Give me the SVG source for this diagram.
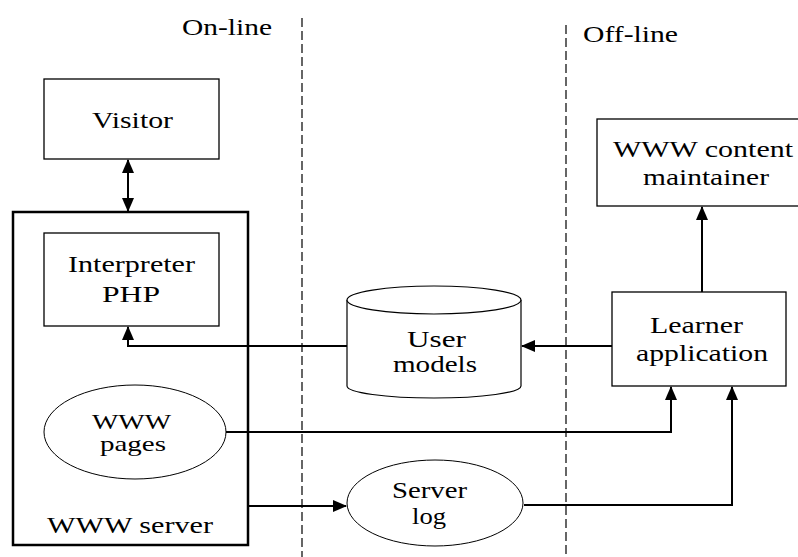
<svg xmlns="http://www.w3.org/2000/svg" width="798" height="557" viewBox="0 0 798 557" font-family="'Liberation Serif','Times New Roman',Times,serif">
<style>
text{font-family:"Liberation Serif","Times New Roman",Times,serif;font-size:24px;fill:#000}
.box{fill:#fff;stroke:#000;stroke-width:1.3}
.conn{fill:none;stroke:#000;stroke-width:2}
.dash{fill:none;stroke:#000;stroke-width:1.2;stroke-dasharray:9 4}
.sm{font-size:21px}
</style>
<defs>
<marker id="ah" markerUnits="userSpaceOnUse" markerWidth="14" markerHeight="12" refX="13" refY="6" orient="auto">
<path d="M0,0 L14,6 L0,12 z" fill="#000"/>
</marker>
<marker id="as" markerUnits="userSpaceOnUse" markerWidth="14" markerHeight="12" refX="1" refY="6" orient="auto">
<path d="M14,0 L0,6 L14,12 z" fill="#000"/>
</marker>
</defs>
<rect width="798" height="557" fill="#fff"/>

<g id="dividers">
<line class="dash" x1="302" y1="18" x2="302" y2="557"/>
<line class="dash" x1="566" y1="25" x2="566" y2="557"/>
<text x="182" y="35" textLength="90" lengthAdjust="spacingAndGlyphs">On-line</text>
<text x="583" y="42" textLength="95" lengthAdjust="spacingAndGlyphs">Off-line</text>
</g>

<g id="connectors">
<line class="conn" x1="128" y1="160" x2="128" y2="211" marker-start="url(#as)" marker-end="url(#ah)"/>
<line class="conn" x1="612" y1="346" x2="522" y2="346" marker-end="url(#ah)"/>
<polyline class="conn" points="347,346 128,346 128,327" marker-end="url(#ah)"/>
<polyline class="conn" points="226,432 671,432 671,387" marker-end="url(#ah)"/>
<polyline class="conn" points="524,505 732,505 732,387" marker-end="url(#ah)"/>
<line class="conn" x1="248" y1="506" x2="346" y2="506" marker-end="url(#ah)"/>
<line class="conn" x1="702" y1="292" x2="702" y2="207" marker-end="url(#ah)"/>
</g>

<g id="www-server">
<rect x="13" y="212" width="235" height="333" fill="none" stroke="#000" stroke-width="2.5"/>
<text x="47" y="533" textLength="166" lengthAdjust="spacingAndGlyphs">WWW server</text>
</g>

<g id="visitor">
<rect class="box" x="44" y="79" width="175" height="80"/>
<text x="92" y="128" textLength="81" lengthAdjust="spacingAndGlyphs">Visitor</text>
</g>

<g id="interpreter">
<rect class="box" x="44" y="233" width="175" height="93"/>
<text x="68" y="272" textLength="127" lengthAdjust="spacingAndGlyphs">Interpreter</text>
<text x="102" y="302" textLength="58" lengthAdjust="spacingAndGlyphs">PHP</text>
</g>

<g id="www-pages">
<ellipse cx="135" cy="432" rx="91" ry="47" fill="#fff" stroke="#000" stroke-width="1"/>
<text class="sm" x="92" y="429" textLength="79" lengthAdjust="spacingAndGlyphs">WWW</text>
<text class="sm" x="100" y="451" textLength="66" lengthAdjust="spacingAndGlyphs">pages</text>
</g>

<g id="user-models">
<path d="M347,300 L347,386 A87,12 0 0 0 521,386 L521,300" fill="#fff" stroke="#000" stroke-width="1.2"/>
<ellipse cx="434" cy="300" rx="87" ry="14" fill="#fff" stroke="#000" stroke-width="1.2"/>
<text x="407" y="347" textLength="59" lengthAdjust="spacingAndGlyphs">User</text>
<text x="393" y="372" textLength="84" lengthAdjust="spacingAndGlyphs">models</text>
</g>

<g id="server-log">
<ellipse cx="435" cy="503" rx="88" ry="43" fill="#fff" stroke="#000" stroke-width="1"/>
<text x="392" y="498" textLength="75" lengthAdjust="spacingAndGlyphs">Server</text>
<text x="412" y="524" textLength="34" lengthAdjust="spacingAndGlyphs">log</text>
</g>

<g id="learner">
<rect class="box" x="612" y="292" width="174" height="94"/>
<text x="650" y="333" textLength="93" lengthAdjust="spacingAndGlyphs">Learner</text>
<text x="636" y="361" textLength="132" lengthAdjust="spacingAndGlyphs">application</text>
</g>

<g id="maintainer">
<rect class="box" x="597" y="119" width="215" height="87"/>
<text x="613" y="157" textLength="180" lengthAdjust="spacingAndGlyphs">WWW content</text>
<text x="643" y="185" textLength="126" lengthAdjust="spacingAndGlyphs">maintainer</text>
</g>
</svg>
